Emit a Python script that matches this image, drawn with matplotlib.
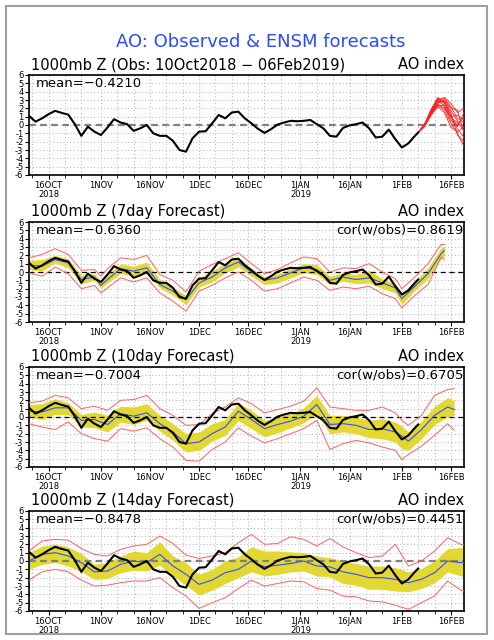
import numpy as np
import matplotlib
matplotlib.use("Agg")
from matplotlib import pyplot as plt
import matplotlib.dates as mdates
from matplotlib.patches import Rectangle
from matplotlib.ticker import FuncFormatter

start = np.datetime64("2018-10-10")
end = np.datetime64("2019-02-20")

# observed AO, every 2 days from 10Oct2018 (last point 06Feb2019)
obs_days = list(range(0, 120, 2)) + [119]
obs = [1.1, 0.4, 0.8, 1.3, 1.7, 1.45, 1.25, 0.1, -1.3, -0.2,
       -0.8, -1.2, -0.3, 0.7, 0.3, 0.1, -0.7, -0.4, 0.0, -1.0,
       -1.3, -1.3, -1.9, -3.0, -3.2, -1.6, -0.8, -0.75, 0.2, 1.2,
       0.8, 1.5, 1.6, 0.8, 0.2, -0.45, -0.95, -0.5, 0.05, 0.3,
       0.5, 0.45, 0.5, 0.6, 0.1, -0.4, -1.3, -1.4, -0.35, -0.05,
       0.1, 0.3, -0.4, -1.5, -1.4, -0.55, -1.7, -2.7, -2.2, -1.3,
       -0.9]

# ensemble members from 06Feb2019 (top panel)
ens_days = [119, 121, 123, 125, 127, 129, 131, 133]
ens_members = [
    [-0.9, 0.0, 1.6, 3.0, 3.3, 2.6, 1.5, 2.0],
    [-0.9, -0.2, 1.3, 2.7, 2.9, 1.7, 0.5, -0.3],
    [-0.9, 0.1, 1.8, 3.2, 2.6, 1.0, -0.5, -1.5],
    [-0.9, -0.1, 1.4, 2.4, 1.8, 0.2, -1.0, -2.6],
    [-0.9, 0.0, 1.5, 2.8, 3.2, 2.2, 0.8, 0.3],
    [-0.9, 0.2, 1.9, 3.1, 2.2, 0.5, 0.0, 1.0],
    [-0.9, -0.1, 1.2, 2.2, 1.5, -0.3, -0.8, -0.2],
    [-0.9, 0.0, 1.7, 2.9, 2.7, 1.4, -1.2, -2.0],
    [-0.9, 0.1, 1.5, 2.5, 2.0, 1.0, 1.2, 0.6],
    [-0.9, -0.1, 1.6, 2.6, 3.0, 2.0, 1.8, -1.0],
    [-0.9, 0.0, 1.3, 2.3, 2.4, 0.8, 0.3, -0.6],
    [-0.9, 0.1, 1.9, 3.3, 2.8, 1.1, -0.2, 1.5],
]

# 7day forecast: ens mean, spread low/high, ens min/max
f7_days = [0, 4, 8, 12, 16, 20, 22, 24, 28, 32, 36, 40, 44, 48, 52, 56, 60, 64,
           68, 72, 76, 80, 84, 88, 92, 96, 100, 104, 108, 112, 114, 118, 122, 126, 127]
f7_mean = [0.8, 0.7, 1.5, 1.1, -0.9, -0.6, -1.6, -0.9, 0.4, 0.1, 0.5, -1.5, -2.3, -3.3,
           -1.3, -0.6, 0.5, 1.2, 0.0, -1.0, -0.7, -0.1, 0.5, 0.3, -1.0, -0.6, -0.9,
           -0.7, -1.3, -1.9, -3.2, -1.7, -0.2, 2.2, 2.6]
f7_lo = [0.3, 0.1, 1.1, 0.5, -1.4, -1.0, -2.0, -1.3, -0.2, -0.5, -0.2, -1.9, -2.8, -3.9,
         -1.8, -1.2, -0.1, 0.6, -0.5, -1.5, -1.3, -0.7, -0.1, -0.3, -1.5, -1.1, -1.4,
         -1.3, -2.0, -2.5, -3.9, -2.2, -0.8, 1.6, 1.9]
f7_hi = [1.4, 1.5, 2.0, 1.6, -0.4, -0.2, -1.1, -0.3, 1.0, 0.7, 1.2, -0.9, -1.8, -2.8,
         -0.7, 0.1, 1.1, 1.7, 0.5, -0.6, -0.2, 0.4, 1.0, 0.9, -0.5, -0.1, -0.3,
         0.2, -0.8, -1.4, -2.5, -1.1, 0.5, 2.9, 3.1]
f7_min = [-0.1, -0.5, 0.6, -0.2, -2.0, -1.6, -2.5, -1.9, -0.7, -1.2, -0.7, -2.5, -3.5, -4.7,
          -2.3, -1.6, -0.7, 0.0, -1.0, -2.3, -2.0, -1.3, -0.6, -1.0, -2.2, -1.8, -2.0,
          -1.7, -2.6, -3.2, -4.3, -2.8, -1.5, 1.8, 1.5]
f7_max = [1.7, 2.1, 2.8, 2.1, 0.2, 0.3, -0.5, 0.4, 1.7, 1.5, 2.0, -0.3, -1.0, -2.4,
          0.1, 0.9, 1.6, 2.3, 1.0, -0.2, 0.3, 1.1, 1.8, 1.6, 0.0, 0.5, 0.4,
          1.0, 0.0, -0.8, -2.0, -0.6, 1.0, 3.3, 3.3]

# 10day forecast
f10_days = [0, 4, 8, 12, 16, 20, 24, 28, 32, 36, 40, 44, 48, 52, 56, 60, 64, 68,
            72, 76, 80, 84, 88, 92, 96, 100, 104, 108, 112, 114, 116, 120, 124, 128, 130]
f10_mean = [0.7, 0.6, 1.1, 1.1, -0.4, -0.3, -0.9, 0.4, 0.1, 0.5, -0.8, -1.8, -3.2, -3.0,
            -2.0, -1.2, 0.7, -0.3, -1.4, -0.9, -0.5, 0.1, 1.5, -0.9, -0.8, -1.0, -1.5,
            -1.4, -1.8, -2.3, -2.9, -1.5, 0.2, 1.2, 0.9]
f10_lo = [0.0, -0.3, 0.3, 0.3, -1.2, -1.3, -1.8, -0.6, -0.9, -0.4, -1.7, -2.8, -4.2, -4.0,
          -2.9, -2.2, -0.4, -1.4, -2.4, -1.9, -1.3, -0.7, 0.4, -2.0, -1.8, -2.0, -2.5,
          -2.6, -3.0, -3.8, -4.0, -2.6, -0.9, 0.0, 0.2]
f10_hi = [1.5, 1.6, 2.2, 1.7, 0.3, 0.6, 0.2, 1.3, 1.2, 1.6, 0.2, -0.8, -2.0, -1.8,
          -0.8, -0.3, 1.7, 0.8, -0.4, 0.0, 0.4, 1.1, 2.6, 0.2, 0.2, 0.0, -0.4,
          -0.2, -0.6, -1.1, -1.8, -0.5, 1.3, 2.3, 2.0]
f10_min = [-0.8, -1.2, -1.5, -0.6, -2.0, -2.6, -2.9, -1.4, -1.7, -1.3, -2.6, -3.6, -5.2, -5.3,
           -3.9, -3.0, -1.3, -2.3, -3.1, -2.6, -2.0, -1.4, -0.4, -3.9, -3.2, -2.8, -3.1,
           -3.6, -4.0, -5.1, -4.5, -3.5, -2.2, -0.8, -1.6]
f10_max = [1.7, 1.9, 2.6, 2.3, 1.0, 1.3, 0.8, 2.0, 2.1, 2.6, 1.0, 0.2, -1.0, -0.9,
           0.4, 1.2, 2.3, 1.6, 0.5, 0.9, 1.3, 1.9, 3.5, 1.2, 1.0, 0.8, 0.8,
           1.2, 0.5, -0.4, -1.0, 0.2, 2.6, 3.3, 3.4]

# 14day forecast
f14_days = [0, 4, 8, 12, 16, 20, 24, 28, 32, 36, 40, 44, 48, 52, 56, 60, 64, 68,
            72, 76, 80, 84, 88, 92, 96, 100, 104, 108, 112, 116, 120, 124, 128, 132, 133]
f14_mean = [0.0, 0.8, 1.0, 0.6, -0.2, -1.3, -1.2, -0.4, 0.0, -0.2, 0.8, -0.6, -1.6, -2.8,
            -2.3, -1.4, -1.0, 0.0, -0.7, -0.5, -0.3, 0.0, -0.6, -0.7, -1.3, -1.6, -2.0,
            -2.0, -2.2, -2.6, -2.2, -1.4, 0.0, -0.2, -0.2]
f14_lo = [-1.0, -0.4, -0.2, -0.6, -1.3, -2.2, -2.1, -1.4, -1.1, -1.2, -0.5, -1.8, -2.9, -4.1,
          -3.5, -2.7, -2.0, -1.3, -1.8, -1.6, -1.3, -1.2, -1.8, -1.9, -2.7, -2.9, -3.4,
          -3.4, -3.6, -3.7, -3.3, -2.6, -1.3, -1.8, -1.8]
f14_hi = [1.0, 1.8, 2.0, 1.7, 0.9, -0.4, -0.2, 0.6, 1.2, 1.0, 2.3, 0.6, -0.2, -1.6,
          -1.0, 0.0, 0.5, 1.7, 1.2, 1.2, 1.1, 1.0, 0.6, 0.4, 0.0, -0.3, -0.6,
          -0.6, -0.8, -1.3, -0.9, 0.0, 1.5, 1.6, 1.6]
f14_min = [-2.3, -1.3, -1.0, -1.3, -2.3, -3.0, -2.9, -2.6, -2.4, -2.4, -2.0, -3.2, -4.2, -5.7,
           -5.0, -4.4, -3.3, -2.3, -3.0, -2.7, -2.4, -2.5, -3.3, -3.5, -4.2, -4.3, -4.8,
           -4.9, -5.3, -5.8, -5.0, -4.2, -2.4, -3.5, -3.6]
f14_max = [1.2, 2.4, 2.6, 2.5, 1.5, 0.8, 0.6, 1.4, 1.8, 2.0, 3.0, 2.1, 0.7, 0.3,
           0.6, 1.0, 2.2, 3.2, 2.0, 2.1, 2.9, 2.6, 1.8, 2.7, 1.7, 1.0, 0.4,
           0.6, 2.0, -0.6, 0.0, 1.2, 2.8, 2.0, 1.9]

panels = [
    ("1000mb Z (Obs: 10Oct2018 \u2212 06Feb2019)", "mean=\u22120.4210", None, None),
    ("1000mb Z (7day Forecast)", "mean=\u22120.6360", "cor(w/obs)=0.8619",
     (f7_days, f7_mean, f7_lo, f7_hi, f7_min, f7_max)),
    ("1000mb Z (10day Forecast)", "mean=\u22120.7004", "cor(w/obs)=0.6705",
     (f10_days, f10_mean, f10_lo, f10_hi, f10_min, f10_max)),
    ("1000mb Z (14day Forecast)", "mean=\u22120.8478", "cor(w/obs)=0.4451",
     (f14_days, f14_mean, f14_lo, f14_hi, f14_min, f14_max)),
]
bottoms_px = [175, 322, 467, 611]


def to_dates(days):
    return start + np.array(days).astype("timedelta64[D]")


def date_label(x, pos):
    d = mdates.num2date(x)
    s = f"{d.day}{d.strftime('%b').upper()}"
    if (d.month == 10 and d.day == 16) or (d.month == 1 and d.day == 1):
        s += f"\n{d.year}"
    return s


fig = plt.figure(figsize=(4.94, 6.4), dpi=100)
fig.add_artist(Rectangle((6 / 494, 6 / 640), 481 / 494, 628 / 640, transform=fig.transFigure,
                         fill=False, edgecolor="#a0a0a0", lw=1.5))
fig.text(261 / 494, 1 - 42 / 640, "AO: Observed & ENSM forecasts", color="#2a4bff",
         fontsize=13, ha="center", va="center")

for (title, mean_txt, cor_txt, fc), bpx in zip(panels, bottoms_px):
    ax = fig.add_axes([29 / 494, 1 - bpx / 640, 435 / 494, 100 / 640])
    ax.set_xlim(start, end)
    ax.set_ylim(-6, 6)

    if fc is None:
        for m in ens_members:
            ax.plot(to_dates(ens_days), m, color="#ff2020", lw=0.6, zorder=3)
        ax.axhline(0, color="#808080", lw=1.6, ls=(0, (3, 2)), zorder=2)
    else:
        days, mean, lo, hi, mn, mx = fc
        dd = to_dates(days)
        ax.fill_between(dd, lo, hi, color="#e3d832", lw=0, zorder=1)
        if fc[0] is f14_days:
            ax.axhline(0, color="#808080", lw=1.6, ls=(0, (3, 2)), zorder=2)
        else:
            ax.axhline(0, color="black", lw=0.9, ls=(0, (4, 3)), zorder=2)
        ax.plot(dd, mn, color="#ff6060", lw=0.7, zorder=3)
        ax.plot(dd, mx, color="#ff6060", lw=0.7, zorder=3)
        ax.plot(dd, mean, color="#3050ff", lw=0.8, zorder=4)
        ax.text(0.998, 0.917, cor_txt, transform=ax.transAxes, ha="right", va="center",
                fontsize=9.5)

    ax.plot(to_dates(obs_days), obs, color="black", lw=1.5, zorder=5)

    ax.text(0.015, 0.917, mean_txt, transform=ax.transAxes, ha="left", va="center",
            fontsize=9.5)
    ax.text(0.005, 1.03, title, transform=ax.transAxes, ha="left", va="bottom", fontsize=10.5)
    ax.text(1.0, 1.03, "AO index", transform=ax.transAxes, ha="right", va="bottom",
            fontsize=10.5)

    ax.set_yticks(range(-6, 7))
    ax.set_yticklabels([str(v) for v in range(-6, 7)], fontsize=6)
    ax.xaxis.set_major_locator(mdates.DayLocator(bymonthday=[1, 16]))
    ax.xaxis.set_minor_locator(mdates.DayLocator(bymonthday=[6, 11, 21, 26]))
    ax.xaxis.set_major_formatter(FuncFormatter(date_label))
    ax.tick_params(axis="x", labelsize=6, length=3, pad=1.5, direction="out")
    ax.tick_params(axis="x", which="minor", length=2)
    ax.tick_params(axis="y", length=3, pad=1, direction="out")
    for lab in ax.get_xticklabels():
        lab.set_linespacing(0.95)
    ax.grid(True, which="both", color="#b0b0b0", lw=0.7, ls=(0, (1, 2.5)))
    ax.set_axisbelow(True)
    for s in ax.spines.values():
        s.set_linewidth(1.2)

fig.savefig("out.png", dpi=100)
